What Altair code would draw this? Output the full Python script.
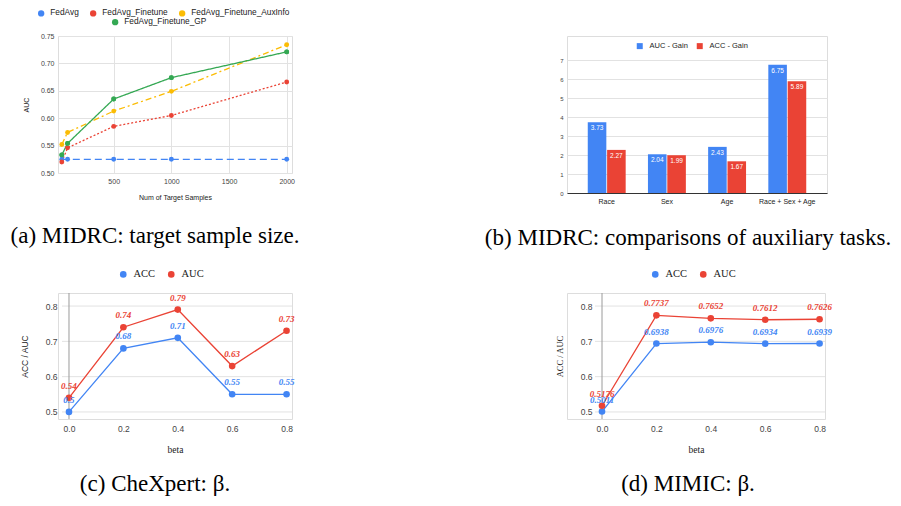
import altair as alt
import pandas as pd

SANS = "Liberation Sans"
SERIF = "Liberation Serif"
GRID = "#e2e2e2"

# ---------------- (a) MIDRC: target sample size ----------------
a_samples = [50, 100, 500, 1000, 2000]
a_series = ["FedAvg", "FedAvg_Finetune", "FedAvg_Finetune_AuxInfo", "FedAvg_Finetune_GP"]
a_fedavg = [0.525, 0.525, 0.525, 0.525, 0.525]
a_finetune = [0.520, 0.546, 0.585, 0.605, 0.666]
a_auxinfo = [0.552, 0.574, 0.613, 0.649, 0.734]
a_gp = [0.533, 0.554, 0.635, 0.674, 0.721]
a_colors = ["#4285F4", "#EA4335", "#FBBC04", "#34A853"]
a_dashes = [[7, 4], [2, 2], [6, 3, 2, 3], [1, 0]]
a_xticks = [500, 1000, 1500, 2000]
a_yticks = [0.50, 0.55, 0.60, 0.65, 0.70, 0.75]

# ---------------- (b) MIDRC: auxiliary tasks ----------------
b_tasks = ["Race", "Sex", "Age", "Race + Sex + Age"]
b_metrics = ["AUC - Gain", "ACC - Gain"]
b_auc_gain = [3.73, 2.04, 2.43, 6.75]
b_acc_gain = [2.27, 1.99, 1.67, 5.89]
b_colors = ["#4285F4", "#EA4335"]
b_yticks = [0, 1, 2, 3, 4, 5, 6, 7]

# ---------------- (c) CheXpert / (d) MIMIC: beta ----------------
beta = [0.0, 0.2, 0.4, 0.6, 0.8]
cd_metrics = ["ACC", "AUC"]
c_acc = [0.5, 0.68, 0.71, 0.55, 0.55]
c_auc = [0.54, 0.74, 0.79, 0.63, 0.73]
d_acc = [0.5011, 0.6938, 0.6976, 0.6934, 0.6939]
d_auc = [0.5176, 0.7737, 0.7652, 0.7612, 0.7626]
cd_colors = ["#4285F4", "#EA4335"]
cd_yticks = [0.5, 0.6, 0.7, 0.8]

captions = [
    "(a) MIDRC: target sample size.",
    "(b) MIDRC: comparisons of auxiliary tasks.",
    "(c) CheXpert: β.",
    "(d) MIMIC: β.",
]


def caption(text, dx, offset):
    return alt.TitleParams(text, orient="bottom", anchor="middle", frame="group",
                           dx=dx, offset=offset, font=SERIF, fontSize=23,
                           fontWeight="normal", color="#000")


# ---------- panel a ----------
a_rows = []
for s, vals in zip(a_series, [a_fedavg, a_finetune, a_auxinfo, a_gp]):
    for n, v in zip(a_samples, vals):
        a_rows.append({"series": s, "n": n, "auc": v})
a_df = pd.DataFrame(a_rows)

a_x = alt.X("n:Q", scale=alt.Scale(domain=[17, 2046], nice=False, zero=False),
            axis=alt.Axis(values=a_xticks, format="d", title="Num of Target Samples",
                          domain=False, ticks=False, gridColor=GRID,
                          labelFont=SANS, labelFontSize=7, labelColor="#444", labelPadding=4,
                          titleFont=SANS, titleFontSize=7, titleFontWeight="normal",
                          titleColor="#222", titlePadding=9))
a_y = alt.Y("auc:Q", scale=alt.Scale(domain=[0.5, 0.75], nice=False, zero=False),
            axis=alt.Axis(values=a_yticks, format=".2f", title="AUC",
                          domain=False, ticks=False, gridColor=GRID,
                          labelFont=SANS, labelFontSize=7, labelColor="#444", labelPadding=4,
                          titleFont=SANS, titleFontSize=7, titleFontWeight="normal",
                          titleColor="#222", titlePadding=11))
a_color = alt.Color("series:N", scale=alt.Scale(domain=a_series, range=a_colors),
                    legend=alt.Legend(values=a_series[:3], orient="none", legendX=-21, legendY=-27,
                                      direction="horizontal", title=None, symbolType="circle",
                                      symbolSize=40, symbolStrokeWidth=0, labelFont=SANS,
                                      labelFontSize=8.3, labelColor="#222", labelOffset=5,
                                      columnPadding=10))
a_base = alt.Chart(a_df).encode(x=a_x, y=a_y)
a_lines = a_base.mark_line(strokeWidth=1.3).encode(
    color=a_color,
    strokeDash=alt.StrokeDash("series:N", scale=alt.Scale(domain=a_series, range=a_dashes), legend=None),
)
a_points = a_base.mark_circle(size=24, opacity=1).encode(color=a_color)
a_gp_layer = a_base.transform_filter(alt.datum.series == a_series[3]).mark_circle(size=24, opacity=1).encode(
    fill=alt.Fill("series:N", scale=alt.Scale(domain=[a_series[3]], range=[a_colors[3]]),
                  legend=alt.Legend(orient="none", legendX=53, legendY=-18, title=None,
                                    symbolType="circle", symbolSize=40, symbolStrokeWidth=0,
                                    labelFont=SANS, labelFontSize=8.3, labelColor="#222",
                                    labelOffset=5))
)
panel_a = alt.layer(a_lines, a_points, a_gp_layer).properties(
    width=234, height=137, title=caption(captions[0], -20, 25))

# ---------- panel b ----------
b_rows = []
for m, vals in zip(b_metrics, [b_auc_gain, b_acc_gain]):
    for t, v in zip(b_tasks, vals):
        b_rows.append({"task": t, "metric": m, "gain": v})
b_df = pd.DataFrame(b_rows)
b_base = alt.Chart(b_df).encode(
    x=alt.X("task:N", sort=b_tasks, scale=alt.Scale(paddingInner=0.37, paddingOuter=0.345),
            axis=alt.Axis(title=None, labelAngle=0, domain=True, domainColor="#333", ticks=False,
                          labelFont=SANS, labelFontSize=7, labelColor="#222", labelPadding=4)),
    xOffset=alt.XOffset("metric:N", sort=b_metrics, scale=alt.Scale(paddingInner=0.04)),
    y=alt.Y("gain:Q", scale=alt.Scale(domain=[0, 8.27], nice=False),
            axis=alt.Axis(values=b_yticks, title=None, domain=False, ticks=False, gridColor=GRID,
                          labelFont=SANS, labelFontSize=6, labelColor="#444", labelPadding=4)),
)
b_bars = b_base.mark_bar().encode(
    color=alt.Color("metric:N", sort=b_metrics, scale=alt.Scale(domain=b_metrics, range=b_colors),
                    legend=alt.Legend(orient="none", legendX=69, legendY=6, direction="horizontal",
                                      title=None, symbolType="square", symbolSize=36,
                                      symbolStrokeWidth=0, labelFont=SANS, labelFontSize=7.5,
                                      labelColor="#222", labelOffset=6, columnPadding=8))
)
b_text = b_base.mark_text(baseline="middle", dy=6, color="white", font=SANS, fontSize=6.5).encode(
    text=alt.Text("gain:Q", format=".2f"))
panel_b = alt.layer(b_bars, b_text).properties(
    width=260, height=157, title=caption(captions[1], -9, 23))


# ---------- panels c / d ----------
def beta_panel(acc, auc, width, xmin, axis_offset, ytitle_font, legend_x, cap, cap_dx, cap_off,
               title_pad):
    rows = []
    for m, vals in zip(cd_metrics, [acc, auc]):
        for b, v in zip(beta, vals):
            rows.append({"metric": m, "beta": b, "value": v, "label": f"{v:g}"})
    df = pd.DataFrame(rows)
    xs = alt.Scale(domain=[xmin, 0.82], nice=False, zero=False)
    ys = alt.Scale(domain=[0.48, 0.837], nice=False, zero=False)
    x = alt.X("beta:Q", scale=xs,
              axis=alt.Axis(values=beta, format=".1f", title="beta", domain=False, ticks=False,
                            gridColor=GRID, labelFont=SANS, labelFontSize=8.5, labelColor="#444",
                            labelPadding=5, titleFont=SERIF, titleFontSize=9.5,
                            titleFontWeight="normal", titleColor="#222", titlePadding=12))
    y = alt.Y("value:Q", scale=ys,
              axis=alt.Axis(values=cd_yticks, format=".1f", title="ACC / AUC", grid=False,
                            domain=False, ticks=False, offset=axis_offset,
                            labelFont=SANS, labelFontSize=8.5, labelColor="#444", labelPadding=1,
                            titleFont=ytitle_font, titleFontSize=8.5, titleFontWeight="normal",
                            titleColor="#222", titlePadding=title_pad))
    color = alt.Color("metric:N", sort=cd_metrics, scale=alt.Scale(domain=cd_metrics, range=cd_colors),
                      legend=alt.Legend(orient="none", legendX=legend_x, legendY=-24,
                                        direction="horizontal", title=None, symbolType="circle",
                                        symbolSize=44, symbolStrokeWidth=0, labelFont=SERIF,
                                        labelFontSize=10.5, labelColor="#222", labelOffset=5,
                                        columnPadding=10))
    hgrid = alt.Chart(pd.DataFrame({"value": cd_yticks})).mark_rule(color=GRID, strokeWidth=1).encode(
        y=y, x=alt.X(datum=-0.0257, type="quantitative", scale=xs), x2=alt.datum(0.82))
    base_rule = alt.Chart(pd.DataFrame({"beta": [beta[0]]})).mark_rule(color="#9a9a9a", strokeWidth=1).encode(x=x)
    base = alt.Chart(df).encode(x=x, y=y)
    lines = base.mark_line(strokeWidth=1.3).encode(color=color)
    points = base.mark_circle(size=44, opacity=1).encode(color=color)
    labels = base.mark_text(dy=-12, font=SERIF, fontSize=9, fontStyle="italic", fontWeight="bold").encode(
        text="label:N", color=color)
    return alt.layer(hgrid, base_rule, lines, points, labels).properties(
        width=width, height=126, title=caption(cap, cap_dx, cap_off))


panel_c = beta_panel(c_acc, c_auc, 234, -0.0404, 0, SANS, 60, captions[2], -20, 19, 16)
panel_d = beta_panel(d_acc, d_auc, 258, -0.1287, -26, SERIF, 83, captions[3], -8, 19, 16)

chart = alt.ConcatChart(
    concat=[panel_a, panel_b, panel_c, panel_d], columns=2, bounds="flush",
    spacing=alt.RowColnumber(row=100, column=275),
).resolve_scale(
    color="independent", fill="independent", strokeDash="independent"
).resolve_legend(
    color="independent", fill="independent"
).properties(
    padding={"left": 2, "top": 0, "right": 0, "bottom": 0}
).configure_view(strokeWidth=0).configure(background="white")

chart.save("out.html", embed_options={"renderer": "svg", "actions": False})
